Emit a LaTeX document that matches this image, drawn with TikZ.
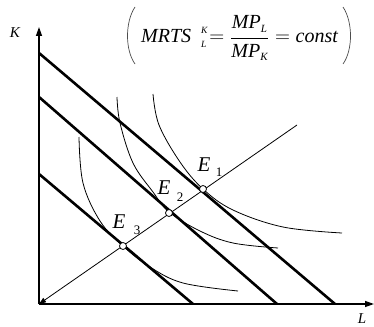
\documentclass[tikz,border=0pt]{standalone}
\usepackage{fontspec}
\setmainfont{Liberation Serif}
\usetikzlibrary{arrows.meta}
\newcommand\ftx[2]{\mbox{\fontsize{#1}{#1}\selectfont\itshape #2}}
\tikzset{
  axis/.style={line width=1.3pt,-{Triangle[length=9pt,width=6pt]}},
  budget/.style={line width=2.6pt},
  isoq/.style={line width=0.8pt},
  ray/.style={line width=0.8pt},
  eqpt/.style={circle,draw,line width=0.8pt,fill=white,inner sep=0pt,minimum size=7pt},
  lbl/.style={font=\fontsize{21}{23}\selectfont\itshape,inner sep=0pt},
  sublbl/.style={font=\fontsize{13}{15}\selectfont,inner sep=0pt},
  axlbl/.style={font=\fontsize{15}{17}\selectfont\itshape,inner sep=0pt},
  paren/.style={line width=0.7pt,draw=black!70}
}
\begin{document}
\begin{tikzpicture}[x=1pt,y=-1pt]
\useasboundingbox (0,0) rectangle (374,326);
% axes
\coordinate (O) at (39,304);
\coordinate (Ktip) at (39,27);
\coordinate (Ltip) at (374,304);
\draw[axis] (O) -- (Ktip);
\draw[axis] (O) -- (Ltip);
\node[axlbl] (K) at (15,33) {K};
\node[axlbl] (L) at (362,319) {L};
% budget lines
\coordinate (A1) at (39,53);
\coordinate (B1) at (335,304);
\coordinate (A2) at (39,97);
\coordinate (B2) at (277,304);
\coordinate (A3) at (39,174);
\coordinate (B3) at (193,304);
\draw[budget] (A1) -- (B1);
\draw[budget] (A2) -- (B2);
\draw[budget] (A3) -- (B3);
% isoquants
\draw[isoq] plot[smooth,tension=0.6] coordinates {(153,94) (159,125) (180,162) (203,189) (233,210) (283,227) (342,233)};
\draw[isoq] plot[smooth,tension=0.6] coordinates {(117,97) (120,123) (133,163) (153,192) (169,212) (200,231) (233,243) (278,248)};
\draw[isoq] plot[smooth,tension=0.6] coordinates {(79,137) (83,183) (100,221) (123,246) (150,267) (183,283) (238,291)};
% expansion path
\coordinate (R) at (297,125);
\draw[ray,-{Triangle[length=7pt,width=5pt]}] (R) -- (O);
% equilibrium points
\node[eqpt] (E1) at (203,189) {};
\node[eqpt] (E2) at (169,213) {};
\node[eqpt] (E3) at (123,246) {};
\node[lbl] (E1l) at (204,165) {E};
\node[sublbl] (E1s) at (219,172) {1};
\node[lbl] (E2l) at (164,188) {E};
\node[sublbl] (E2s) at (180,197) {2};
\node[lbl] (E3l) at (119,222) {E};
\node[sublbl] (E3s) at (137,230) {3};
% formula
\node[inner sep=0pt,anchor=base west] (F) at (141,43) {\fontsize{20}{24}\selectfont\ftx{20}{MRTS}\hspace{10pt}\rlap{\raisebox{9pt}{\ftx{9.5}{K}}}\raisebox{-5pt}{\ftx{9.5}{L}}\hspace{3pt}$\displaystyle=\frac{\ftx{20}{MP}_{\ftx{11}{L}}}{\ftx{20}{MP}_{\ftx{11}{K}}}=\ftx{20}{const}$};
\draw[paren] (135,7) .. controls (125,22) and (125,50) .. (135,64);
\draw[paren] (343,7) .. controls (353,22) and (353,50) .. (343,64);
\end{tikzpicture}
\end{document}
